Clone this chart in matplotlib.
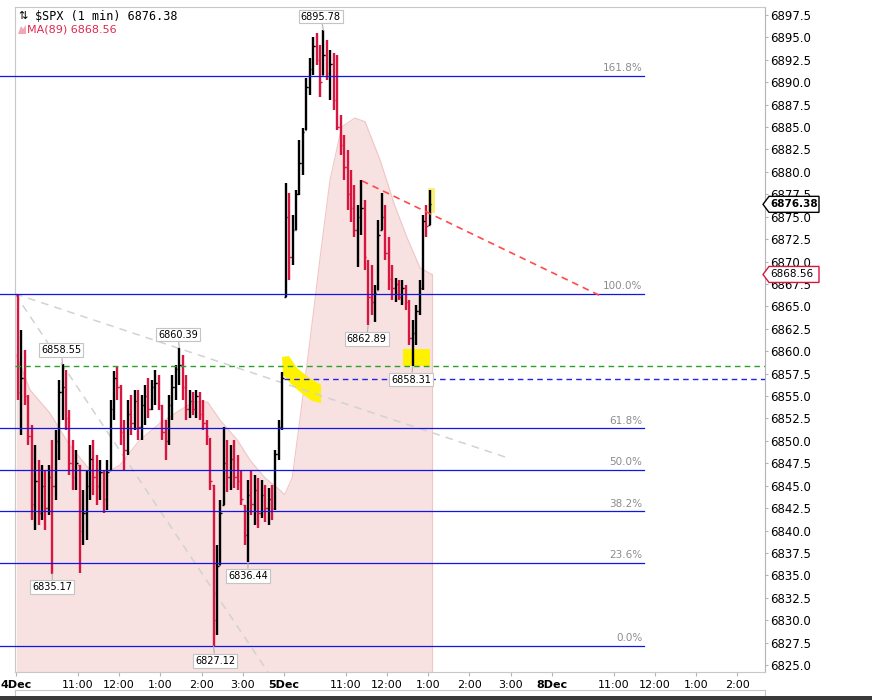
import matplotlib
matplotlib.use("Agg")
import matplotlib.pyplot as plt
import numpy as np
from matplotlib.patches import Polygon, Rectangle

# x is "trading minutes since 4 Dec 09:30" (390 min per session, no gaps)
# 5-minute bars: 4 Dec 09:30 .. 5 Dec 13:05
highs = [
    6866.3, 6862.4, 6860.1, 6855.1, 6851.8, 6849.5, 6847.9, 6847.3, 6846.8, 6847.3,
    6850.1, 6851.2, 6856.8, 6858.55, 6857.9, 6853.4, 6850.1, 6849.0, 6847.3, 6844.5,
    6846.8, 6849.5, 6850.1, 6848.4, 6847.9, 6846.8, 6847.9, 6854.6, 6857.8, 6858.4,
    6856.2, 6852.3, 6854.6, 6855.1, 6855.7, 6855.7, 6855.1, 6856.2, 6857.0, 6856.8,
    6857.9, 6857.4, 6854.0, 6852.3, 6855.1, 6857.4, 6858.5, 6860.39, 6859.6, 6857.4,
    6855.7, 6855.5, 6855.7, 6855.5, 6854.6, 6852.3, 6850.3, 6845.1, 6838.4, 6843.4,
    6851.6, 6850.1, 6849.5, 6850.1, 6848.4, 6846.8, 6842.9, 6845.6, 6846.8, 6846.2,
    6845.9, 6845.6, 6845.1, 6844.7, 6845.1, 6849.0, 6852.3, 6857.7,
    6878.8, 6877.6, 6875.2, 6878.0, 6883.6, 6884.9, 6890.5, 6892.7, 6895.0, 6895.5,
    6894.2, 6895.78, 6894.7, 6893.6, 6893.3, 6893.0, 6886.3, 6884.1, 6882.4, 6880.2,
    6878.5, 6876.3, 6879.1, 6876.9, 6870.2, 6869.6, 6867.4, 6874.6, 6877.7, 6876.3,
    6872.7, 6869.6, 6868.2, 6867.9, 6867.9, 6867.4, 6865.7, 6863.5, 6865.2, 6867.9,
    6875.2, 6876.3, 6878.0,
]
lows = [
    6854.6, 6850.7, 6854.0, 6849.5, 6841.2, 6840.1, 6840.6, 6841.2, 6840.1, 6841.7,
    6835.17, 6843.4, 6847.9, 6852.3, 6851.2, 6846.2, 6844.5, 6844.5, 6835.3, 6838.4,
    6838.9, 6843.4, 6844.0, 6842.9, 6843.4, 6842.0, 6842.3, 6846.8, 6852.3, 6854.6,
    6849.5, 6846.8, 6848.4, 6850.7, 6851.2, 6850.1, 6850.1, 6851.8, 6852.6, 6853.4,
    6854.0, 6853.4, 6850.1, 6847.9, 6849.5, 6852.3, 6854.6, 6856.2, 6854.6, 6852.3,
    6852.6, 6852.9, 6852.6, 6852.3, 6851.2, 6849.5, 6844.5, 6827.12, 6828.4, 6836.2,
    6842.9, 6844.3, 6844.5, 6844.7, 6844.5, 6842.9, 6838.4, 6836.44, 6841.7, 6840.6,
    6840.3, 6841.4, 6841.0, 6840.6, 6841.2, 6842.3, 6847.9, 6851.2,
    6866.0, 6867.9, 6869.6, 6873.5, 6877.4, 6879.7, 6884.7, 6888.6, 6890.8, 6891.9,
    6888.4, 6890.8, 6890.3, 6888.0, 6886.9, 6884.7, 6881.9, 6879.1, 6875.8, 6874.4,
    6872.7, 6869.4, 6873.0, 6869.1, 6862.89, 6864.0, 6863.3, 6866.8, 6873.5, 6870.2,
    6866.8, 6865.7, 6865.5, 6865.7, 6865.2, 6864.6, 6860.7, 6858.31, 6860.7, 6864.0,
    6866.8, 6872.7, 6874.1,
]
closes = [
    6855.5, 6857.0, 6855.0, 6850.5, 6843.0, 6845.5, 6842.0, 6845.0, 6842.5, 6846.0,
    6845.0, 6850.0, 6855.5, 6856.0, 6852.5, 6847.5, 6846.0, 6847.5, 6840.0, 6842.0,
    6845.0, 6848.0, 6846.0, 6845.0, 6846.5, 6843.5, 6846.5, 6853.5, 6857.0, 6856.0,
    6851.0, 6849.0, 6853.0, 6852.0, 6854.5, 6851.5, 6854.0, 6855.0, 6853.5, 6856.0,
    6856.5, 6854.0, 6851.0, 6850.0, 6854.0, 6856.0, 6858.0, 6858.5, 6856.0, 6853.5,
    6854.5, 6853.5, 6855.0, 6853.0, 6852.0, 6850.5, 6845.5, 6830.0, 6836.0, 6842.0,
    6847.5, 6846.0, 6848.0, 6846.0, 6845.5, 6843.5, 6839.5, 6844.0, 6843.0, 6844.5,
    6842.0, 6844.0, 6842.5, 6843.5, 6842.5, 6848.5, 6851.5, 6857.0,
    6875.0, 6870.5, 6873.5, 6877.5, 6881.0, 6884.5, 6889.5, 6891.5, 6894.0, 6892.5,
    6890.0, 6893.0, 6891.0, 6892.0, 6888.0, 6885.0, 6883.0, 6880.5, 6877.5, 6876.0,
    6873.5, 6875.0, 6876.0, 6870.5, 6866.0, 6865.5, 6866.5, 6873.0, 6875.0, 6871.0,
    6868.0, 6867.0, 6867.5, 6866.0, 6867.0, 6865.5, 6861.5, 6862.0, 6864.5, 6867.0,
    6874.5, 6874.0, 6876.38,
]
session_opens = {0: 6866.3, 78: 6866.0}

# MA(89) outline
ma_m = [0, 20, 49, 78, 107, 129, 151, 180, 210, 238, 260, 279, 297, 322, 341, 362,
        384, 391, 402, 413, 428, 443, 457, 474, 493, 508, 530, 551, 569, 588, 605]
ma_v = [6859.6, 6855.7, 6853.1, 6849.5, 6846.8, 6846.3, 6847.3, 6850.1, 6852.0, 6853.4,
        6854.4, 6854.3, 6852.3, 6850.1, 6847.8, 6845.9, 6844.5, 6844.0, 6845.9, 6852.3,
        6861.3, 6870.7, 6879.1, 6885.0, 6886.0, 6885.6, 6881.3, 6876.3, 6872.7, 6869.3,
        6868.56]

# fibonacci
fib_low, fib_high = 6827.12, 6866.4
fib_ratios = [0.0, 0.236, 0.382, 0.5, 0.618, 1.0, 1.618]
fib_end = 915

# drawn lines
green_level = 6858.31
blue_level, blue_start = 6856.9, 390
gray_a = ([-1.7, 716], [6866.4, 6848.1])
gray_b = ([-1.7, 366.7], [6866.4, 6824.2])
red_line = ([503.6, 850.2], [6879.0, 6866.2])
blob_m = [387.1, 397.3, 408.9, 425.0, 443.9, 443.9, 430.8, 413.3, 398.8, 388.6]
blob_v = [6859.35, 6859.46, 6858.13, 6857.12, 6856.23, 6854.22, 6854.45, 6855.45, 6856.45, 6857.35]
box_low = (563.3, 602.6, 6858.3, 6860.2)
box_last = (599.7, 609.9, 6875.4, 6878.2)

tick_m = [0, 90, 150, 210, 270, 330, 390, 480, 540, 600, 660, 720, 780, 870, 930, 990, 1050]
tick_lab = ['4Dec', '11:00', '12:00', '1:00', '2:00', '3:00', '5Dec', '11:00', '12:00',
            '1:00', '2:00', '3:00', '8Dec', '11:00', '12:00', '1:00', '2:00']

# callouts: value, bar index, text offset (points)
callouts = [
    (6858.55, 13, (-1, 10.5)), (6860.39, 47, (-1, 9.5)), (6895.78, 89, (-2, 10)),
    (6862.89, 102, (-1, -10)), (6858.31, 115, (-1, -9.5)), (6836.44, 67, (0, -9.5)),
    (6835.17, 10, (0, -9.5)), (6827.12, 57, (1, -10.5)),
]

RED = '#d6163f'
XMIN, XMAX = -23.6, 1090.5
YMIN, YMAX = 6824.22, 6898.39

fig = plt.figure(figsize=(8.72, 7.0), dpi=100)
ax = fig.add_axes([0, 28 / 700, 765 / 872, 665 / 700])
ax.set_xlim(XMIN, XMAX)
ax.set_ylim(YMIN, YMAX)

highs = np.array(highs)
lows = np.array(lows)
closes = np.array(closes)
mins = np.arange(len(highs)) * 5 + 2.5
opens = np.r_[0, closes[:-1]]
for k, v in session_opens.items():
    opens[k] = v
opens = np.clip(opens, lows, highs)
cols = np.where(closes >= opens, 'black', RED)

# MA shading
ax.fill_between(ma_m, ma_v, YMIN, color='#f7e1e1', lw=0, zorder=1)
ax.plot(ma_m, ma_v, color='#efc6c6', lw=0.8, zorder=1)
ax.plot([ma_m[-1], ma_m[-1]], [YMIN, ma_v[-1]], color='#efc6c6', lw=0.8, zorder=1)

# yellow highlighter
ax.add_patch(Polygon(list(zip(blob_m, blob_v)), closed=True, fc='#fff200', ec='none', zorder=2))
ax.add_patch(Rectangle((box_low[0], box_low[2]), box_low[1] - box_low[0], box_low[3] - box_low[2],
                       fc='#fff200', ec='none', zorder=2))
ax.add_patch(Rectangle((box_last[0], box_last[2]), box_last[1] - box_last[0], box_last[3] - box_last[2],
                       fc='#f8f07a', ec='none', zorder=2))

# gray dashed trend lines
for xs, ys in (gray_a, gray_b):
    ax.plot(xs, ys, color='#d2d2d2', lw=1.1, ls=(0, (5, 4)), zorder=2)

# bars
ax.vlines(mins, lows, highs, colors=cols, lw=1.7, zorder=4)
ax.hlines(opens, mins - 2.2, mins, colors=cols, lw=1.0, zorder=4)
ax.hlines(closes, mins, mins + 2.2, colors=cols, lw=1.0, zorder=4)

# fib lines
rng = fib_high - fib_low
for r in fib_ratios:
    lv = fib_low + r * rng
    ax.plot([XMIN, fib_end], [lv, lv], color='#1414e6', lw=0.9, zorder=5)
    ax.annotate(f'{r * 100:.1f}%', xy=(fib_end - 3, lv), xytext=(0, 2), textcoords='offset points',
                ha='right', va='bottom', fontsize=7.5, color='#8c8c8c', zorder=5)

ax.plot([-1.7, XMAX], [green_level, green_level], color='#2ca02c', lw=1.0, ls=(0, (4, 3)), zorder=5)
ax.plot([blue_start, XMAX], [blue_level, blue_level], color='#2222ee', lw=1.0, ls=(0, (4, 3)), zorder=5)
ax.plot(red_line[0], red_line[1], color='#ff4a4a', lw=1.2, ls=(0, (4, 3)), zorder=5)

# value callouts
for val, k, off in callouts:
    ax.annotate(f'{val:.2f}', xy=(mins[k], val), xytext=off, textcoords='offset points',
                ha='center', va='center', fontsize=7, zorder=7,
                bbox=dict(boxstyle='square,pad=0.2', fc='white', ec='#c4c4c4', lw=0.8),
                arrowprops=dict(arrowstyle='-', color='#b0b0b0', lw=0.8, shrinkA=0, shrinkB=0))

# frame
for s in ('left', 'top', 'bottom'):
    ax.spines[s].set_visible(False)
ax.spines['right'].set_color('#b4b4b4')
ax.spines['right'].set_linestyle((0, (1, 1)))
ax.plot([-1.7, -1.7], [YMIN, YMAX], color='#c8c8c8', lw=0.8, clip_on=False, zorder=3)
ax.plot([-1.7, XMAX], [YMAX, YMAX], color='#c8c8c8', lw=0.8, clip_on=False, zorder=3)
ax.plot([-1.7, XMAX], [YMIN, YMIN], color='#c8c8c8', lw=0.8, clip_on=False, zorder=3)

ax.yaxis.tick_right()
ax.set_yticks(np.arange(6825.0, 6897.6, 2.5))
ax.set_yticklabels([f'{v:.1f}' for v in np.arange(6825.0, 6897.6, 2.5)], fontsize=8.5)
ax.tick_params(axis='y', length=2, pad=2, color='#b4b4b4')
ax.set_xticks(tick_m)
ax.set_xticklabels(tick_lab, fontsize=8)
for lab in ax.get_xticklabels():
    if lab.get_text().endswith('Dec'):
        lab.set_fontweight('bold')
ax.tick_params(axis='x', length=3, pad=3, color='#b4b4b4')

# price tags on the right axis
px_x = 1 / 765
px_y = (YMAX - YMIN) / 665
tags = [(closes[-1], 'black', 'bold'), (ma_v[-1], RED, 'normal')]
ytr = ax.get_yaxis_transform()
for val, ec, wt in tags:
    shape = [(1 - 2 * px_x, val), (1 + 4 * px_x, val + 8 * px_y), (1 + 54 * px_x, val + 8 * px_y),
             (1 + 54 * px_x, val - 8 * px_y), (1 + 4 * px_x, val - 8 * px_y)]
    ax.add_patch(Polygon(shape, closed=True, fc='white', ec=ec, lw=1.0, transform=ytr,
                         clip_on=False, zorder=8))
    ax.text(1 + 5 * px_x, val, f'{val:.2f}', transform=ytr, ha='left', va='center',
            fontsize=7.5, fontweight=wt, color='black', clip_on=False, zorder=9)

# legend text
fig.text(18 / 872, 1 - 16 / 700, '\u21c5', fontsize=8, va='center', ha='left')
fig.text(35 / 872, 1 - 16 / 700, f'$SPX (1 min) {closes[-1]:.2f}', family='DejaVu Sans Mono',
         fontsize=8.5, va='center', ha='left')
fig.patches.append(Polygon([(18 / 872, 1 - 34 / 700), (21 / 872, 1 - 26 / 700), (23 / 872, 1 - 29 / 700),
                            (26 / 872, 1 - 25 / 700), (26 / 872, 1 - 34 / 700)],
                           closed=True, transform=fig.transFigure, fc='#f0a8b4', ec='none'))
fig.text(27 / 872, 1 - 30 / 700, f'MA(89) {ma_v[-1]:.2f}', fontsize=8, color='#e0284f',
         va='center', ha='left')

# bottom panel stub and task bar
ax2 = fig.add_axes([15 / 872, 0, 750 / 872, 10 / 700])
ax2.set_xticks([])
ax2.set_yticks([])
for s in ax2.spines.values():
    s.set_color('#c8c8c8')
fig.patches.append(Rectangle((0, 0), 1, 4 / 700, transform=fig.transFigure, fc='#3a3a3a', ec='none',
                             zorder=10))

fig.savefig('out.png', dpi=100)
